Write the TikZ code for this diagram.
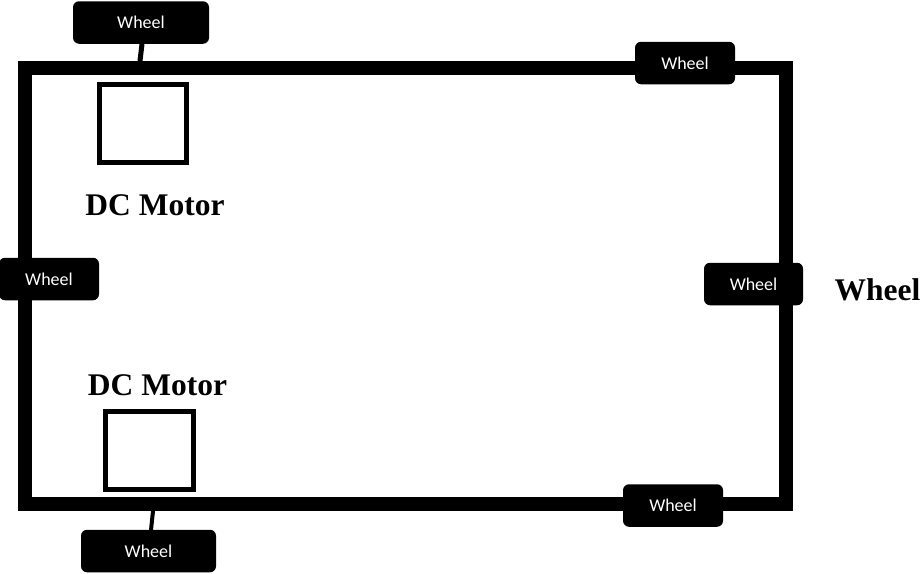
\documentclass[tikz,border=0pt]{standalone}
\usepackage{fontspec}
\setmainfont{Liberation Serif}
\newfontfamily\wheelfont{Carlito}
\begin{document}
\begin{tikzpicture}[x=1pt,y=-1pt,
  wheelbox/.style={fill=black, rounded corners=6pt, text=white, font=\wheelfont\fontsize{18}{20}\selectfont,
    minimum height=42.5pt, inner sep=0pt, text height=12pt, text depth=0pt},
  motorbox/.style={draw=black, line width=5pt, inner sep=0pt},
  stub/.style={line width=5pt},
  bigtext/.style={font=\fontsize{31.5}{34}\selectfont\bfseries, inner sep=0pt, anchor=base}]
\useasboundingbox (0,0) rectangle (921,573);
% chassis frame
\node[draw=black, line width=14pt, minimum width=761pt, minimum height=436pt, inner sep=0pt] (frame) at (405.5,286) {};
% motors
\node[motorbox, minimum width=87pt, minimum height=78pt] (m1) at (143,123.5) {};
\node[motorbox, minimum width=88pt, minimum height=78pt] (m2) at (149.5,450.5) {};
% wheels
\node[wheelbox, minimum width=136pt] (wtl) at (141,22.5) {Wheel};
\node[wheelbox, minimum width=100pt] (wtr) at (685,63) {Wheel};
\node[wheelbox, minimum width=100pt] (wl) at (49,279) {Wheel};
\node[wheelbox, minimum width=99pt] (wr) at (753.5,284) {Wheel};
\node[wheelbox, minimum width=135pt] (wb) at (148.5,551) {Wheel};
\node[wheelbox, minimum width=100pt] (wbr) at (673,505.5) {Wheel};
% axles
\coordinate (a1) at (140,61);
\coordinate (a1t) at (142,44);
\draw[stub] (a1t) -- (a1);
\coordinate (a2) at (153,511);
\coordinate (a2b) at (151,530);
\draw[stub, line width=4pt] (a2) -- (a2b);
% labels
\node[bigtext] (l1) at (155,215) {DC Motor};
\node[bigtext] (l2) at (157.5,395) {DC Motor};
\node[bigtext] (l3) at (877.5,300) {Wheel};
\end{tikzpicture}
\end{document}
